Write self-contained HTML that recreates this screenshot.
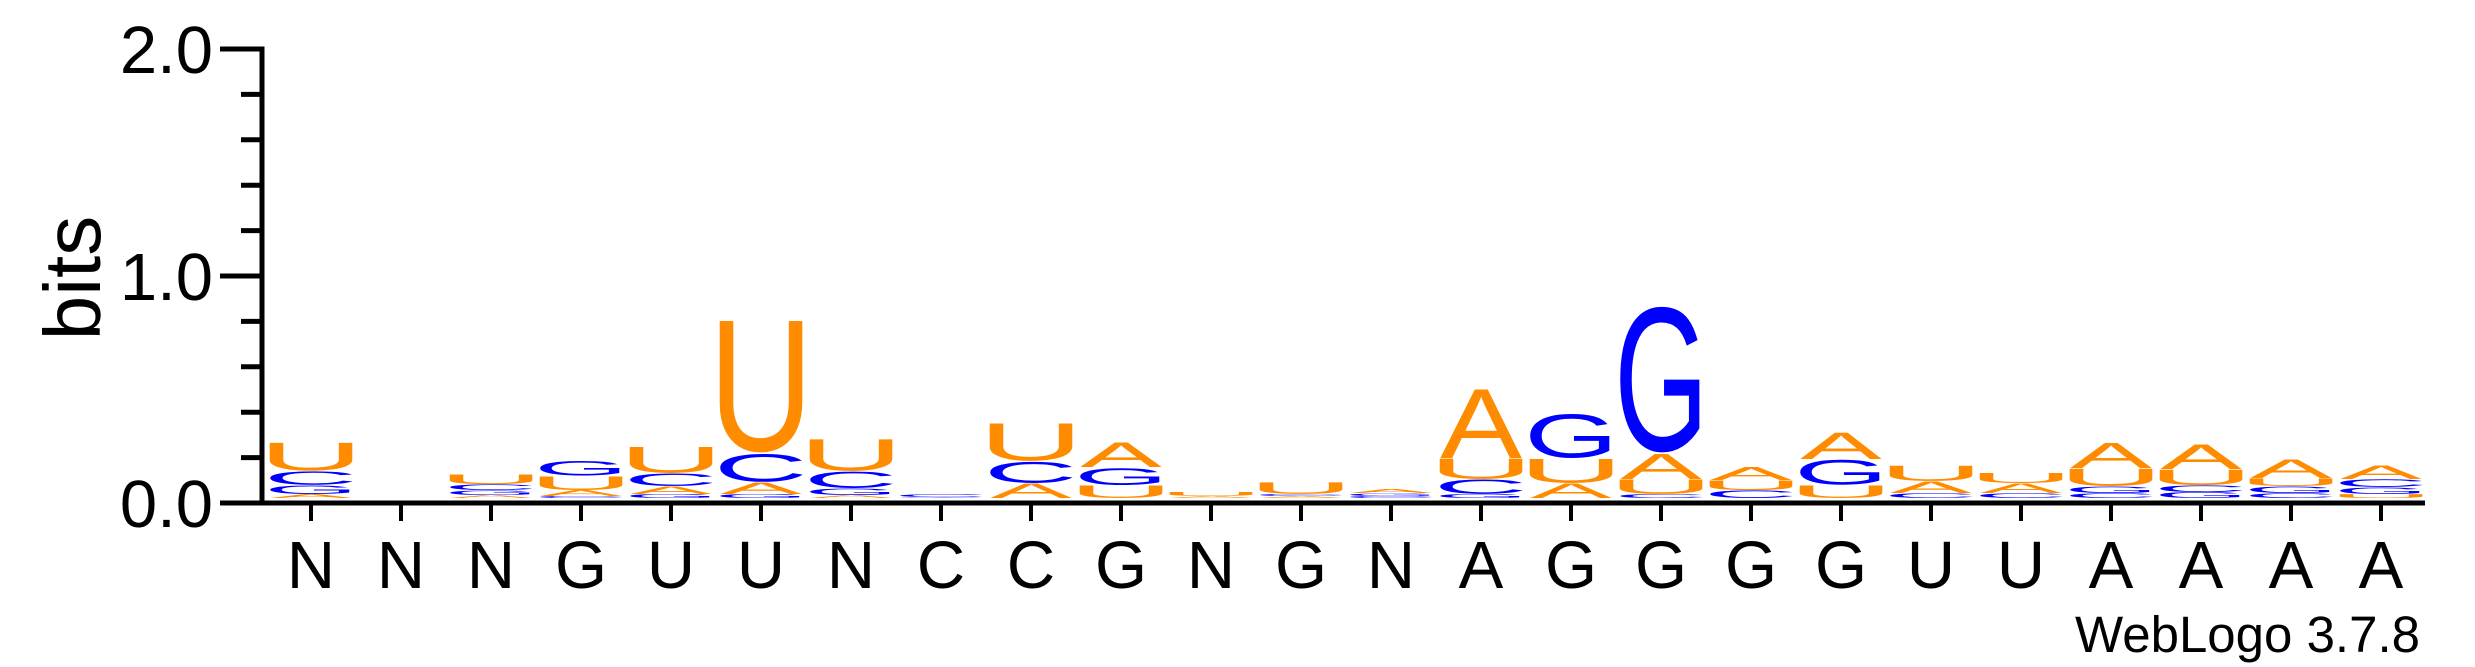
<!DOCTYPE html>
<html><head><meta charset="utf-8"><style>
html,body{margin:0;padding:0;background:#fff;}
svg{display:block;}
text{font-family:"Liberation Sans",Arial,sans-serif;}
</style></head><body>
<svg id="logo" width="2475" height="667" viewBox="0 0 2475 667" xmlns="http://www.w3.org/2000/svg">
<g id="axes"></g>
<g id="stacks"></g>
<text x="0" y="0" font-size="80" text-anchor="middle" transform="translate(100,278) rotate(-90)">bits</text>
<text x="2420" y="652" font-size="51" text-anchor="end">WebLogo 3.7.8</text>
</svg>
<script>
const positions = ["N","N","N","G","U","U","N","C","C","G","N","G","N","A","G","G","G","G","U","U","A","A","A","A"];
const bitsA = [.018,0,.013,.026,.035,.053,.013,0,.066,.110,.009,.009,.018,.313,.066,.115,.057,.119,.053,.044,.115,.110,.084,.062];
const bitsC = [.062,0,.026,.009,.057,.128,.075,.013,.097,0,0,.009,.009,.066,0,.018,.035,0,.022,.022,.022,.031,.022,.035];
const bitsG = [.040,0,.022,.070,.018,.018,.031,.004,0,.079,0,0,.013,.018,.203,.670,0,.115,0,0,.031,.026,.031,.031];
const bitsU = [.128,0,.044,.062,.119,.604,.145,0,.172,.057,.018,.053,0,.093,.110,.066,.044,.057,.070,.046,.079,.070,.035,.018];
const yTicks = [0,0.2,0.4,0.6,0.8,1.0,1.2,1.4,1.6,1.8,2.0];
const yTickLabels = {"0":"0.0","1":"1.0","2":"2.0"};

const NS="http://www.w3.org/2000/svg";
const X0=311, DX=90, Y0=503, PXB=227, LB=498;
const xPos=i=>X0+i*DX;
const yPos=v=>Y0-v*PXB;
const colors={A:"#FF8C00",U:"#FF8C00",C:"#0000FF",G:"#0000FF"};
// glyph ink metrics (em units): lsb, width, top, bottom overshoot
const met={A:[-0.001,0.669,0.716,0],U:[0.079,0.564,0.716,0.012],C:[0.049,0.630,0.728,0.012],G:[0.048,0.677,0.728,0.012]};
function mk(tag,attrs,parent){const e=document.createElementNS(NS,tag);for(const k in attrs)e.setAttribute(k,attrs[k]);parent.appendChild(e);return e;}
const axes=document.getElementById('axes');
// y axis
let yl=mk('line',{x1:262,y1:yPos(2)-2.5,x2:262,y2:Y0+2.5,stroke:'#000','stroke-width':5},axes);


yTicks.forEach(v=>{
  const major=Math.abs(v-Math.round(v))<1e-6;
  const t=mk('line',{x1:major?220:241,y1:yPos(v),x2:262,y2:yPos(v),stroke:'#000','stroke-width':5},axes);
  
  
  if(major){
    const lb=mk('text',{x:213,y:yPos(v)+24,'font-size':67,'text-anchor':'end'},axes);
    lb.textContent=yTickLabels[String(Math.round(v))];
    
    
  }
});
// x axis
let xl=mk('line',{x1:260,y1:Y0,x2:2425,y2:Y0,stroke:'#000','stroke-width':5},axes);


positions.forEach((p,i)=>{
  const t=mk('line',{x1:xPos(i),y1:Y0,x2:xPos(i),y2:521,stroke:'#000','stroke-width':4},axes);
  
  
  const lb=mk('text',{x:xPos(i),y:588,'font-size':67,'text-anchor':'middle'},axes);
  lb.textContent=p;
  
  
});
// stacks
const stacks=document.getElementById('stacks');
const W=82;
positions.forEach((p,i)=>{
  const col=[['A',bitsA[i]],['C',bitsC[i]],['G',bitsG[i]],['U',bitsU[i]]].filter(d=>d[1]>0).sort((a,b)=>a[1]-b[1]);
  let yb=LB;
  col.forEach(([L,b])=>{
    const h=b*PXB;
    const m=met[L];
    const sx=W/(m[1]*100), sy=h/((m[2]+m[3])*100);
    const tx=xPos(i)-W/2-m[0]*100*sx;
    const ty=yb-m[3]*100*sy;
    const t=mk('text',{x:0,y:0,'font-size':100,fill:colors[L],transform:`translate(${tx},${ty}) scale(${sx},${sy})`},stacks);
    t.textContent=L;
    
    
    yb-=h;
  });
});
</script>
</body></html>
